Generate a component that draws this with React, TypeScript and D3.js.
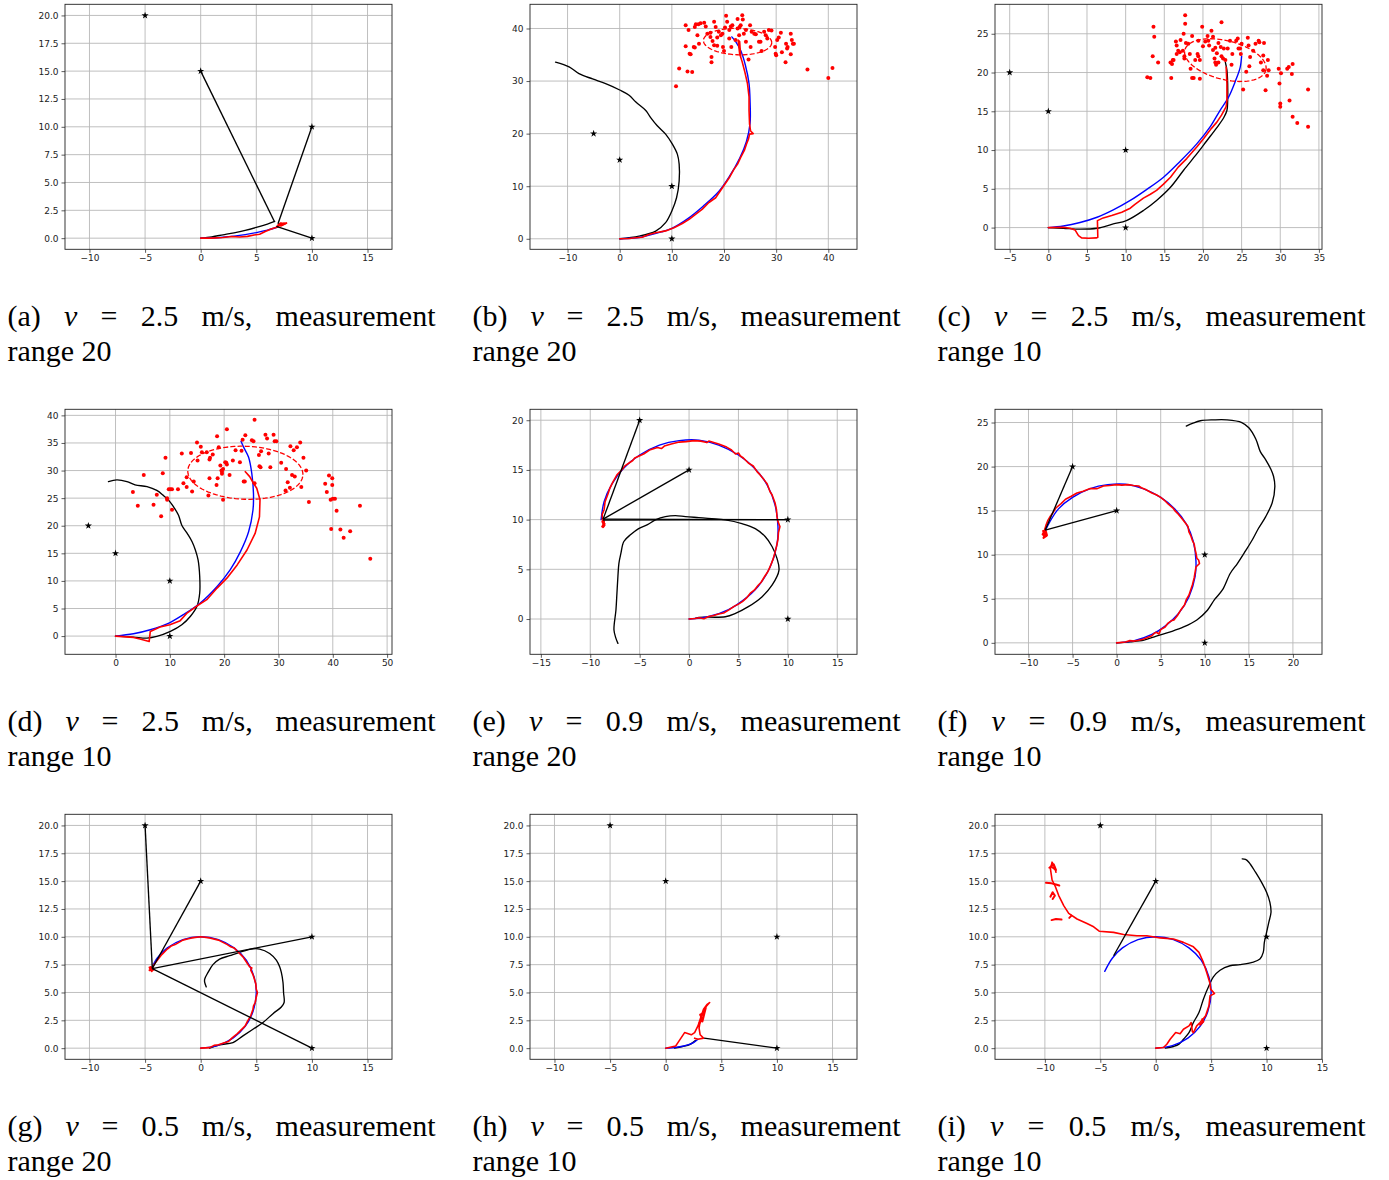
import React, { useEffect, useRef } from "react";
import * as d3 from "d3";

type Pt = [number, number];
type Seg = [number, number, number, number];

// ---- shared values -------------------------------------------------------
const landmarks: Pt[] = [[-5, 20], [0, 15], [10, 10], [10, 0]];
const letters = ["a", "b", "c", "d", "e", "f", "g", "h", "i"];
const speeds = ["2.5", "2.5", "2.5", "2.5", "0.9", "0.9", "0.5", "0.5", "0.5"];
const ranges = [20, 20, 10, 10, 20, 10, 20, 10, 10];

const xDomains: Pt[] = [
  [-12.2, 17.2], [-17.2, 45.5], [-6.9, 35.4],
  [-9.3, 50.9], [-16.1, 17.0], [-13.8, 23.3],
  [-12.2, 17.2], [-12.2, 17.2], [-14.5, 15.0],
];
const yDomains: Pt[] = [
  [-1.0, 21.0], [-2.0, 44.6], [-2.8, 28.8],
  [-3.3, 41.1], [-3.55, 21.1], [-1.3, 26.5],
  [-1.0, 21.0], [-1.0, 21.0], [-1.0, 21.0],
];
const xTicksSmall = [-10, -5, 0, 5, 10, 15];
const yTicksQuarter = [0, 2.5, 5, 7.5, 10, 12.5, 15, 17.5, 20];
const xTicks: number[][] = [
  xTicksSmall, [-10, 0, 10, 20, 30, 40], [-5, 0, 5, 10, 15, 20, 25, 30, 35],
  [0, 10, 20, 30, 40, 50], [-15, -10, -5, 0, 5, 10, 15], [-10, -5, 0, 5, 10, 15, 20],
  xTicksSmall, xTicksSmall, xTicksSmall,
];
const yTicks: number[][] = [
  yTicksQuarter, [0, 10, 20, 30, 40], [0, 5, 10, 15, 20, 25],
  [0, 5, 10, 15, 20, 25, 30, 35, 40], [0, 5, 10, 15, 20], [0, 5, 10, 15, 20, 25],
  yTicksQuarter, yTicksQuarter, yTicksQuarter,
];
const yFormats = [".1f", "d", "d", "d", "d", "d", ".1f", ".1f", ".1f"];

// ---- (a) -----------------------------------------------------------------
const aBlack: Pt[] = [[0, 0], [1, 0.12], [2, 0.3], [3, 0.48], [4, 0.7], [5, 0.97], [6, 1.27], [6.65, 1.5]];
const aBlue: Pt[] = [[0, 0], [1, 0.02], [2, 0.08], [3, 0.18], [4, 0.32], [5, 0.5], [6, 0.72], [6.95, 1.0]];
const aRed: Pt[] = [[0, 0], [1, 0.0], [2, 0.06], [2.8, 0.15], [3.5, 0.1], [4.2, 0.16], [4.8, 0.28], [5.3, 0.35], [5.8, 0.6], [6.4, 0.85], [6.9, 1.0], [7.3, 1.3], [7.0, 1.15], [7.5, 1.35], [7.2, 1.1], [7.6, 1.3], [7.0, 1.2], [7.4, 1.25]];
const aRedBits: Pt[][] = [[[6.9, 1.1], [7.2, 1.35], [7.5, 1.3], [7.7, 1.35], [7.3, 1.2], [7.0, 1.25]]];
const aLinks: Seg[] = [[0, 15, 6.65, 1.45], [10, 10, 6.95, 1.3], [6.8, 1.05, 10, 0]];

// ---- (b) -----------------------------------------------------------------
const bBlack: Pt[] = [[0, 0], [3.7, 0.5], [6.9, 1.46], [8.8, 3.06], [10.0, 5.3], [10.9, 7.8], [11.4, 11.0], [11.4, 14.2], [11.05, 16.1], [10.1, 18.0], [8.8, 19.9], [7.2, 21.5], [5.9, 23.1], [5.0, 24.4], [3.1, 26.0], [1.8, 27.3], [0, 28.3], [-2.7, 29.5], [-5.2, 30.4], [-7.8, 31.4], [-9.7, 32.7], [-12.3, 33.6]];
const bBlue: Pt[] = [[0, 0], [4, 0.3], [8, 1.3], [10, 2.0], [13, 3.8], [16, 6.2], [19, 9.0], [21, 11.8], [23, 15.3], [24.3, 18.5], [25, 22], [25, 26], [24.8, 29.5], [24.1, 33], [23.2, 35.8], [22.3, 37.4], [21.5, 38.4]];
const bRed: Pt[] = [[0, 0], [1.8, 0.06], [3.1, 0.19], [4.3, 0.3], [5.6, 0.8], [6.9, 1.15], [8.8, 1.5], [10.4, 2.1], [12.0, 2.9], [13.3, 3.7], [14.6, 4.7], [15.8, 5.6], [17.1, 6.9], [18.4, 7.8], [19.7, 9.7], [21.0, 11.6], [21.9, 13.2], [22.6, 14.2], [23.2, 15.5], [23.9, 16.8], [24.3, 18.0], [24.7, 19.0], [24.9, 19.9], [25.6, 20.0], [25.1, 20.5], [24.9, 21.8], [24.8, 24.4], [24.8, 27.0], [24.5, 29.5], [24.0, 31.7], [23.5, 33.6], [23.0, 35.2], [22.7, 37.8], [23.0, 37.5], [23.2, 34.6]];
const bScatter: Pt[] = [[12.65, 40.6], [13.2, 39.7], [14.4, 40.3], [14.6, 40.8], [15.1, 40.8], [14.9, 38.7], [15.2, 37.1], [12.65, 36.6], [13.4, 35.2], [13.6, 35.1], [14.2, 36.5], [14.4, 36.4], [11.4, 32.4], [13.0, 31.8], [13.9, 31.7], [10.8, 29.0], [16.2, 41.1], [16.5, 40.4], [17.4, 39.2], [17.8, 37.6], [18.1, 41.3], [18.4, 40.3], [18.1, 36.8], [18.7, 38.3], [17.6, 34.6], [17.6, 33.6], [18.7, 36.7], [19.4, 38.7], [19.7, 39.0], [19.8, 36.5], [20.0, 35.7], [20.2, 40.2], [20.4, 42.4], [20.6, 41.3], [21.0, 39.7], [21.3, 40.4], [21.6, 40.6], [21.4, 36.5], [22.2, 37.8], [22.6, 40.0], [22.6, 41.8], [23.0, 40.3], [23.2, 40.6], [23.5, 42.5], [23.6, 41.7], [23.8, 39.0], [24.2, 37.5], [24.7, 34.1], [25.0, 40.6], [25.1, 36.5], [25.3, 39.4], [25.8, 39.0], [26.1, 38.9], [26.7, 37.5], [27.0, 37.5], [27.2, 35.7], [27.7, 39.4], [28.0, 38.7], [28.3, 38.1], [28.6, 39.7], [29.1, 39.6], [29.8, 36.5], [29.9, 35.2], [30.0, 34.9], [30.2, 37.8], [30.5, 38.3], [30.9, 39.2], [31.1, 35.5], [31.8, 33.6], [31.9, 37.1], [32.1, 36.2], [32.2, 36.5], [32.8, 39.0], [32.8, 35.1], [33.0, 37.8], [33.2, 37.1], [33.4, 37.1], [36.0, 32.2], [40.0, 30.6], [40.8, 32.5], [15.5, 41.0], [19.0, 39.4], [21.0, 38.1], [22.9, 38.7], [24.2, 39.7], [16.8, 39.0], [17.4, 38.4]];
// centre x, centre y, semi-axis x, semi-axis y, rotation (deg)
const bEllipse = [22.6, 37.5, 6.55, 2.5, -2];

// ---- (c) -----------------------------------------------------------------
const cBlack: Pt[] = [[0, 0], [1.94, -0.09], [4.1, -0.2], [6.3, -0.09], [8.4, 0.47], [10.1, 0.9], [12.3, 2.2], [14.0, 3.5], [15.8, 5.2], [17.5, 7.4], [19.2, 9.5], [20.5, 11.2], [21.8, 12.9], [22.7, 14.2], [23.1, 15.1], [23.2, 16.4], [23.2, 18.5], [23.1, 20.3], [22.9, 21.3]];
const cBlue: Pt[] = [[0, 0], [1.94, 0.2], [4.1, 0.65], [6.3, 1.33], [8.4, 2.28], [10.6, 3.5], [12.7, 4.9], [14.9, 6.5], [17.0, 8.5], [19.2, 10.8], [20.9, 12.95], [22.2, 15.1], [23.3, 16.8], [24.2, 18.9], [24.8, 20.6], [25.0, 22.1]];
const cRed: Pt[] = [[0, 0], [1.94, 0.04], [2.8, -0.09], [3.45, -0.3], [3.9, -1.03], [4.3, -1.33], [5.2, -1.38], [6.2, -1.33], [6.4, -1.25], [6.35, 0.9], [7.1, 1.25], [8.2, 1.55], [9.5, 1.98], [10.6, 2.5], [11.2, 3.0], [12.3, 3.8], [13.2, 4.3], [14.0, 4.8], [14.9, 5.6], [15.8, 6.5], [16.8, 7.8], [17.9, 8.9], [19.2, 10.4], [20.1, 11.5], [21.1, 12.8], [21.8, 13.6], [22.4, 14.5], [23.0, 15.6], [23.1, 16.4], [23.1, 18.6], [23.0, 20.7]];
const cScatter: Pt[] = [[13.6, 25.9], [13.7, 24.6], [13.5, 22.1], [14.2, 21.3], [12.8, 19.4], [13.2, 19.3], [16.0, 21.1], [15.8, 21.3], [15.9, 19.3], [16.1, 21.6], [16.2, 21.6], [16.5, 24.0], [16.6, 23.5], [16.8, 22.8], [16.6, 22.4], [17.1, 24.2], [17.0, 22.6], [17.4, 22.8], [17.6, 22.1], [17.6, 21.8], [17.5, 25.0], [17.7, 27.4], [17.7, 26.3], [17.8, 23.8], [18.1, 23.7], [18.3, 22.4], [18.4, 20.5], [18.6, 24.7], [18.6, 19.3], [18.8, 19.3], [19.0, 21.6], [19.3, 22.4], [19.4, 24.1], [19.4, 22.1], [19.6, 21.6], [19.6, 19.2], [19.9, 25.9], [20.0, 23.4], [20.3, 24.0], [20.6, 24.7], [20.7, 24.1], [20.8, 23.5], [21.1, 25.4], [21.3, 24.6], [21.3, 22.9], [21.5, 21.8], [21.6, 21.3], [21.6, 23.2], [21.7, 21.0], [21.8, 22.5], [22.0, 23.8], [22.0, 21.3], [22.3, 23.3], [22.4, 26.5], [22.4, 22.1], [22.6, 21.8], [22.7, 23.1], [22.9, 21.6], [23.2, 23.1], [23.5, 24.1], [23.7, 21.0], [23.8, 22.4], [24.3, 24.1], [24.5, 24.4], [24.6, 23.1], [24.8, 23.1], [24.9, 22.4], [25.0, 23.7], [25.2, 17.8], [25.6, 20.1], [25.8, 24.5], [25.9, 23.5], [26.0, 20.8], [26.1, 22.0], [26.5, 22.8], [26.8, 23.7], [27.2, 24.1], [27.3, 23.9], [27.5, 21.3], [27.8, 22.2], [27.9, 23.8], [27.8, 20.3], [28.1, 17.7], [28.3, 19.6], [28.4, 21.6], [28.5, 20.3], [29.8, 20.5], [29.9, 18.6], [30.1, 19.9], [30.0, 16.0], [30.0, 15.6], [30.9, 20.5], [31.1, 20.7], [31.2, 16.4], [31.5, 19.8], [31.6, 21.1], [31.6, 14.3], [32.2, 13.5], [33.6, 17.8], [33.6, 13.0]];
const cEllipse = [22.9, 21.6, 5.4, 2.5, -14];

// ---- (d) -----------------------------------------------------------------
const dBlack: Pt[] = [[0, 0], [3.3, -0.18], [5.8, -0.36], [7.6, -0.06], [10.1, 0.85], [12.2, 2.05], [13.8, 3.6], [15.0, 5.4], [15.5, 7.8], [15.5, 10.8], [15.2, 13.8], [14.7, 15.6], [14.1, 17.1], [13.2, 18.6], [12.2, 20.1], [11.6, 21.9], [10.7, 23.4], [9.8, 24.6], [8.8, 25.5], [7.6, 26.4], [5.8, 27.1], [3.6, 27.4], [2.1, 28.0], [0.25, 28.3], [-1.3, 28.0]];
const dBlue: Pt[] = [[0, 0], [3.3, 0.42], [6.4, 1.15], [9.5, 2.2], [12.5, 3.9], [15.6, 6.0], [18.7, 9.0], [21.1, 12.0], [23.0, 15.3], [24.5, 18.9], [25.3, 22.8], [25.4, 25.8], [25.1, 29.4], [24.5, 32.4], [23.6, 34.2], [23.1, 35.3]];
const dRed: Pt[] = [[0, 0], [3.3, -0.24], [4.5, -0.54], [6.2, -0.97], [6.4, 0.85], [8.2, 1.63], [10.0, 2.05], [11.9, 2.8], [13.1, 4.1], [14.9, 5.4], [16.8, 6.6], [18.7, 8.7], [20.5, 10.5], [22.4, 12.9], [24.2, 15.6], [25.7, 18.6], [26.5, 21.6], [26.6, 24.7], [26.0, 26.8], [25.4, 27.7], [24.7, 28.9], [23.9, 29.8]];
const dScatter: Pt[] = [[3.2, 26.1], [4.1, 23.6], [5.2, 29.2], [7.0, 23.8], [7.6, 25.6], [8.4, 21.7], [8.7, 29.5], [9.2, 32.3], [9.5, 25.0], [9.5, 24.7], [9.8, 26.6], [10.1, 26.6], [10.4, 26.6], [10.4, 22.9], [11.5, 26.6], [12.2, 33.1], [12.5, 27.7], [13.1, 28.8], [13.1, 27.0], [13.9, 33.2], [14.1, 26.2], [14.4, 28.0], [15.0, 35.1], [15.1, 31.8], [15.7, 34.3], [15.9, 33.3], [16.8, 33.3], [17.1, 25.5], [17.3, 28.6], [17.3, 32.0], [17.4, 32.3], [17.9, 32.9], [18.6, 27.4], [18.7, 36.2], [18.8, 28.6], [19.0, 34.2], [19.3, 30.9], [19.5, 30.0], [19.6, 29.8], [19.6, 29.4], [19.8, 30.3], [19.8, 24.7], [20.2, 31.5], [20.4, 31.4], [20.5, 31.1], [20.5, 37.5], [21.0, 29.2], [21.6, 31.8], [22.1, 33.7], [22.9, 31.5], [23.2, 33.6], [23.4, 35.6], [23.6, 28.0], [23.8, 28.0], [23.9, 36.4], [25.1, 35.5], [25.4, 35.3], [25.6, 39.2], [25.6, 27.7], [26.4, 32.8], [26.5, 30.8], [26.7, 30.6], [26.8, 33.5], [27.6, 36.5], [27.9, 35.8], [28.2, 33.1], [28.5, 30.6], [29.1, 36.5], [29.3, 35.3], [29.6, 35.3], [30.5, 31.4], [31.3, 26.4], [31.4, 30.3], [31.7, 27.9], [32.1, 26.9], [32.2, 34.4], [32.5, 29.2], [32.8, 33.7], [33.0, 28.9], [33.4, 34.2], [34.0, 35.1], [34.2, 27.0], [34.6, 32.3], [35.1, 30.0], [35.6, 24.3], [38.6, 27.6], [38.9, 26.1], [39.3, 29.1], [39.6, 24.7], [39.9, 27.4], [39.9, 28.6], [40.0, 24.9], [40.4, 24.9], [40.7, 22.7], [39.7, 19.4], [41.4, 19.3], [42.0, 17.8], [43.2, 19.0], [45.0, 23.6], [46.9, 14.0]];
const dEllipse = [23.9, 29.6, 10.6, 4.8, -2];

// ---- (e) -----------------------------------------------------------------
const eBlack: Pt[] = [[0.64, 0.07], [0.98, 0.17], [3.67, 0.23], [4.7, 0.57], [6.0, 1.24], [7.4, 2.25], [8.4, 3.4], [9.1, 4.9], [8.9, 6.1], [8.4, 7.3], [7.7, 8.3], [6.7, 9.1], [5.35, 9.6], [3.67, 9.97], [2.3, 10.1], [0.98, 10.2], [-0.37, 10.3], [-1.38, 10.4], [-2.4, 10.3], [-3.4, 9.97], [-4.2, 9.5], [-5.1, 9.1], [-5.9, 8.5], [-6.6, 7.8], [-6.9, 6.6], [-7.1, 5.6], [-7.2, 4.3], [-7.3, 2.6], [-7.4, 0.9], [-7.6, -1.1], [-7.4, -1.95], [-7.2, -2.45]];
const eBlue: Pt[] = [[0, 0], [2, 0.25], [4, 0.95], [5.5, 1.9], [7, 3.3], [8.2, 5.2], [8.9, 7.5], [9.0, 9.3], [8.7, 11.5], [7.9, 13.5], [6.6, 15.2], [5, 16.5], [3, 17.5], [1, 18], [-1, 17.95], [-3, 17.5], [-5, 16.5], [-6.6, 15.2], [-7.8, 13.6], [-8.6, 11.8], [-8.9, 10]];
const eRed: Pt[] = [[0, 0], [0.6, 0.05], [1, 0.12], [1.5, 0.03], [2, 0.25], [2.5, 0.35], [3, 0.5], [3.5, 0.6], [4, 0.9], [4.6, 1.3], [5, 1.5], [5.4, 1.75], [5.8, 2.1], [6.2, 2.6], [6.6, 2.9], [7, 3.4], [7.3, 3.7], [7.6, 4.2], [8.0, 4.8], [8.3, 5.5], [8.5, 6.0], [8.7, 6.7], [8.85, 7.3], [9.0, 8.0], [9.05, 8.7], [9.2, 9.3], [9.0, 9.8], [8.9, 10.3], [8.85, 11.0], [8.7, 11.7], [8.4, 12.5], [8.2, 12.8], [7.9, 13.6], [7.6, 14.0], [7.2, 14.5], [6.9, 14.8], [6.5, 15.4], [6.0, 15.7], [5.5, 16.2], [5.2, 16.4], [5.0, 16.7], [4.7, 16.6], [4.3, 17.0], [3.8, 17.3], [3.0, 17.6], [2, 17.9], [1.8, 17.75], [1.2, 17.9], [0.5, 17.95], [-0.3, 17.85], [-1, 17.8], [-1.8, 17.6], [-2.5, 17.4], [-2.8, 17.15], [-3.2, 17.25], [-4, 17], [-4.6, 16.6], [-5.5, 16.2], [-5.7, 15.95], [-6.5, 15.4], [-6.9, 14.9], [-7.3, 14.5], [-7.7, 13.8], [-8.0, 13.2], [-8.2, 12.6], [-8.5, 11.8], [-8.6, 11.0], [-8.8, 10.5], [-8.7, 9.6], [-8.6, 9.4], [-8.8, 9.8], [-8.6, 10.1], [-8.7, 9.5]];
const eRedBits: Pt[][] = [[[-8.8, 9.3], [-8.55, 9.6], [-8.75, 10.0], [-8.55, 9.45], [-8.7, 9.25], [-8.6, 9.8]]];
const eLinks: Seg[] = [[-8.7, 10.05, -5, 20], [-8.7, 10.05, 0, 15], [-8.7, 10.05, 10, 10], [-8.7, 9.95, 10, 10]];

// ---- (f) -----------------------------------------------------------------
const fBlack: Pt[] = [[0, 0], [1.55, 0.11], [3.1, 0.3], [4.5, 0.76], [6.1, 1.25], [7.6, 1.8], [9.1, 2.6], [10.3, 3.7], [11.1, 4.9], [12.0, 6.0], [12.9, 7.9], [13.7, 9.0], [14.6, 10.4], [15.4, 11.7], [16.1, 13.0], [16.9, 14.3], [17.65, 15.9], [17.95, 17.75], [17.8, 18.9], [17.5, 19.7], [16.9, 20.8], [16.3, 21.7], [15.8, 23.1], [15.0, 24.4], [14.2, 25.0], [12.5, 25.3], [11.0, 25.3], [9.5, 25.2], [8.6, 24.9], [7.9, 24.6]];
const fBlue: Pt[] = [[0, 0], [2, 0.25], [4, 0.95], [5.5, 1.9], [7, 3.3], [8.2, 5.2], [8.9, 7.5], [9.0, 9.3], [8.7, 11.5], [7.9, 13.5], [6.6, 15.2], [5, 16.5], [3, 17.5], [1, 18], [-1, 17.95], [-3, 17.5], [-5, 16.5], [-6.6, 15.2], [-7.6, 13.7], [-8.2, 12.5]];
const fRed: Pt[] = [[0, 0], [1, 0.1], [1.5, 0.25], [2, 0.2], [2.5, 0.3], [3, 0.4], [3.5, 0.6], [4, 0.8], [4.3, 1.1], [4.5, 1.2], [4.8, 1.0], [5, 1.5], [5.5, 1.8], [5.8, 2.2], [6.2, 2.5], [6.5, 2.6], [6.9, 3.1], [7.2, 3.6], [7.4, 3.9], [7.7, 4.3], [7.9, 4.9], [8.2, 5.4], [8.4, 6.0], [8.6, 6.6], [8.8, 7.4], [8.9, 8.0], [9.0, 8.6], [9.4, 9.0], [9.3, 9.4], [9.1, 9.6], [9.0, 10.2], [8.9, 10.6], [8.8, 11.2], [8.6, 11.6], [8.4, 12.2], [8.2, 12.6], [8.1, 13.2], [7.8, 13.6], [7.4, 14.1], [7.0, 14.6], [6.6, 15.0], [6.4, 15.3], [5.9, 15.7], [5.5, 16.1], [5.0, 16.5], [4.5, 16.8], [4.0, 17.0], [3.3, 17.4], [2.8, 17.6], [2.5, 17.8], [1.9, 17.85], [1.3, 17.95], [0.6, 17.9], [0, 17.95], [-0.8, 17.85], [-1.5, 17.8], [-2.2, 17.5], [-3, 17.5], [-3.8, 17.2], [-4.5, 17], [-5.2, 16.6], [-5.8, 16.3], [-6.3, 15.8], [-6.9, 15.3], [-7.2, 14.8], [-7.5, 14.4], [-7.8, 13.9], [-8.0, 13.4], [-8.2, 12.7], [-8.3, 12.2], [-8.0, 12.1], [-8.2, 12.5]];
const fRedBits: Pt[][] = [[[-8.4, 12.3], [-8.1, 12.9], [-7.9, 12.2], [-8.3, 11.9], [-8.0, 12.6], [-8.35, 12.7]]];
const fLinks: Seg[] = [[-8.1, 12.8, -5, 20], [-8.1, 12.8, 0, 15]];

// ---- (g) -----------------------------------------------------------------
const gBlack: Pt[] = [[0.8, 0], [1.7, 0.3], [2.9, 0.5], [3.8, 1.1], [4.7, 1.7], [5.6, 2.3], [6.5, 3.1], [7.25, 3.7], [7.5, 4.1], [7.45, 5.0], [7.4, 5.9], [7.25, 6.8], [7.1, 7.3], [6.8, 7.9], [6.2, 8.5], [5.3, 8.9], [4.55, 8.9], [3.5, 8.6], [2.6, 8.3], [1.7, 8.0], [1.1, 7.5], [0.66, 6.8], [0.36, 6.2], [0.36, 5.9], [0.5, 5.5]];
const gBlue: Pt[] = [[0, 0], [1.5, 0.23], [2.9, 0.9], [4, 1.95], [4.7, 3.3], [5, 5], [4.8, 6.4], [4.1, 7.9], [3, 9], [1.6, 9.75], [0, 10], [-1.6, 9.75], [-3, 9], [-3.9, 8.1], [-4.4, 7.2]];
const gRed: Pt[] = [[0, 0], [0.8, 0.05], [1.2, 0.25], [1.6, 0.3], [2.2, 0.5], [2.5, 0.6], [2.8, 0.9], [3.3, 1.3], [3.8, 1.8], [4.0, 2.0], [4.2, 2.4], [4.5, 2.9], [4.7, 3.5], [4.75, 3.8], [4.9, 4.1], [5.0, 4.6], [5.1, 5.0], [5.0, 5.3], [4.95, 5.8], [4.8, 6.3], [4.7, 6.6], [4.5, 7.0], [4.6, 7.2], [4.4, 7.3], [4.2, 7.6], [3.8, 8.2], [3.3, 8.7], [3.0, 9.0], [2.7, 9.1], [2.4, 9.3], [1.6, 9.7], [0.8, 9.9], [0, 10.0], [-0.8, 9.9], [-1.2, 9.8], [-1.6, 9.7], [-2.3, 9.3], [-2.6, 9.2], [-3.0, 8.9], [-3.5, 8.4], [-3.9, 7.9], [-4.2, 7.5], [-4.4, 7.2], [-4.5, 7.0], [-4.3, 7.1], [-4.5, 7.3]];
const gRedBits: Pt[][] = [[[-4.6, 7.0], [-4.3, 7.3], [-4.4, 6.9], [-4.6, 7.25], [-4.25, 7.05]]];
const gLinks: Seg[] = [[-4.35, 7.15, -5, 20], [-4.35, 7.15, 0, 15], [-4.35, 7.15, 10, 10], [-4.35, 7.15, 10, 0]];

// ---- (h) -----------------------------------------------------------------
const hBlack: Pt[] = [[0.8, 0], [1.5, 0.15], [2.2, 0.35], [2.7, 0.7]];
const hBlue: Pt[] = [[0, 0], [1, 0.08], [2, 0.3], [2.5, 0.5], [2.9, 0.8]];
const hRed: Pt[] = [[0, 0], [0.9, 0.2], [1.1, 0.5], [1.7, 1.4], [2.3, 1.2], [2.6, 1.4], [2.9, 2.0], [3.2, 2.9], [3.4, 3.5], [3.7, 3.9], [3.95, 4.1], [3.6, 3.7], [3.3, 3.0], [3.1, 2.4], [3.0, 1.8], [3.1, 1.2], [3.4, 0.9], [2.9, 0.8], [2.6, 0.9]];
const hRedBits: Pt[][] = [[[3.0, 2.2], [3.3, 2.6], [3.1, 3.0], [3.5, 3.2], [3.3, 2.4], [3.6, 3.6], [3.4, 3.1]]];
const hLinks: Seg[] = [[3.45, 0.9, 10, 0]];

// ---- (i) -----------------------------------------------------------------
const iBlack: Pt[] = [[0.87, 0], [1.6, 0.15], [2.1, 0.36], [2.5, 0.8], [3.0, 1.4], [3.4, 2.3], [3.9, 3.2], [4.3, 4.4], [4.8, 5.6], [5.2, 6.4], [5.8, 7.0], [6.7, 7.4], [7.6, 7.5], [8.7, 7.7], [9.4, 8.0], [9.7, 8.6], [9.8, 9.5], [10.0, 10.4], [10.2, 11.3], [10.4, 12.2], [10.3, 13.1], [10.0, 14.0], [9.6, 14.8], [9.0, 15.8], [8.4, 16.7], [8.1, 16.95], [7.8, 17.0]];
const iBlue: Pt[] = [[0, 0], [1.5, 0.23], [2.9, 0.9], [4, 1.95], [4.7, 3.3], [5, 5], [4.8, 6.4], [4.1, 7.9], [3, 9], [1.6, 9.75], [0, 10], [-1.6, 9.75], [-3, 9], [-3.9, 8.1], [-4.6, 6.9]];
const iRed: Pt[] = [[0, 0], [0.7, 0.06], [1.0, 0.35], [1.3, 0.8], [1.8, 1.4], [2.2, 1.3], [2.5, 1.7], [3.0, 2.0], [3.2, 2.3], [3.3, 1.5], [3.4, 1.4], [3.7, 2.0], [4.0, 2.3], [4.5, 2.9], [4.8, 3.8], [4.9, 4.7], [5.3, 4.9], [4.95, 5.3], [4.9, 5.8], [4.6, 6.8], [4.3, 7.7], [3.9, 8.6], [3.4, 9.1], [2.5, 9.5], [1.6, 9.8], [0.4, 9.9], [-0.8, 10.1], [-1.7, 10.1], [-2.9, 10.2], [-3.8, 10.4], [-5.1, 10.5], [-5.6, 10.9], [-6.2, 11.2], [-7.1, 11.6], [-7.85, 12.1], [-8.3, 12.8], [-8.75, 13.7], [-9.05, 14.5], [-9.35, 15.1], [-9.5, 16.1], [-9.35, 16.7], [-9.1, 16.2], [-9.0, 15.8]];
const iRedBits: Pt[][] = [
  [[-9.9, 14.85], [-9.4, 14.8], [-9.0, 14.7], [-8.7, 14.6]],
  [[-9.5, 13.6], [-9.3, 14.0], [-9.1, 13.7], [-9.3, 13.4]],
  [[-9.4, 11.5], [-9.0, 11.6], [-8.5, 11.55]],
  [[-9.6, 16.2], [-9.2, 16.5], [-9.0, 16.0], [-9.4, 16.3]],
  [[-7.8, 11.7], [-7.6, 11.9]],
  [[4.0, 2.1], [4.3, 2.4], [4.2, 2.6]],
];
const iLinks: Seg[] = [[-3.8, 8.3, 0, 15]];

// ---- figure table --------------------------------------------------------
type Panel = {
  black: Pt[]; blue: Pt[]; red: Pt[]; redBits?: Pt[][];
  links?: Seg[]; scatter?: Pt[]; ellipse?: number[];
};
const panels: Panel[] = [
  { black: aBlack, blue: aBlue, red: aRed, redBits: aRedBits, links: aLinks },
  { black: bBlack, blue: bBlue, red: bRed, scatter: bScatter, ellipse: bEllipse },
  { black: cBlack, blue: cBlue, red: cRed, scatter: cScatter, ellipse: cEllipse },
  { black: dBlack, blue: dBlue, red: dRed, scatter: dScatter, ellipse: dEllipse },
  { black: eBlack, blue: eBlue, red: eRed, redBits: eRedBits, links: eLinks },
  { black: fBlack, blue: fBlue, red: fRed, redBits: fRedBits, links: fLinks },
  { black: gBlack, blue: gBlue, red: gRed, redBits: gRedBits, links: gLinks },
  { black: hBlack, blue: hBlue, red: hRed, redBits: hRedBits, links: hLinks },
  { black: iBlack, blue: iBlue, red: iRed, redBits: iRedBits, links: iLinks },
];

// ---- layout --------------------------------------------------------------
const W = 1389;
const H = 1180;
const PLOT_W = 327;
const PLOT_H = 245;
const colLeft = [65, 530, 995];
const rowTop = [4.3, 409.3, 814.3];
const capLeft = [7.5, 472.5, 937.5];
const CAP_W = 428;
const capBase = [326, 731, 1136];
const CAP_LINE = 35;
const TICK_FONT = "'DejaVu Sans', sans-serif";
const CAP_FONT = "'Liberation Serif', 'Times New Roman', serif";

function drawPanel(svg: d3.Selection<SVGSVGElement, unknown, null, undefined>, p: Panel, i: number) {
  const col = i % 3;
  const row = Math.floor(i / 3);
  const left = colLeft[col];
  const top = rowTop[row];
  const x = d3.scaleLinear().domain(xDomains[i]).range([left, left + PLOT_W]);
  const y = d3.scaleLinear().domain(yDomains[i]).range([top + PLOT_H, top]);
  const g = svg.append("g");

  const clipId = `plot-clip-${i}`;
  g.append("clipPath").attr("id", clipId)
    .append("rect").attr("x", left).attr("y", top).attr("width", PLOT_W).attr("height", PLOT_H);

  // grid
  g.append("g").selectAll("line").data(xTicks[i]).join("line")
    .attr("x1", (d) => x(d)).attr("x2", (d) => x(d))
    .attr("y1", top).attr("y2", top + PLOT_H)
    .attr("stroke", "#b8b8b8").attr("stroke-width", 0.9);
  g.append("g").selectAll("line").data(yTicks[i]).join("line")
    .attr("y1", (d) => y(d)).attr("y2", (d) => y(d))
    .attr("x1", left).attr("x2", left + PLOT_W)
    .attr("stroke", "#b8b8b8").attr("stroke-width", 0.9);

  // axes
  const xAxis = d3.axisBottom(x).tickValues(xTicks[i]).tickFormat(d3.format("d"))
    .tickSizeInner(3.5).tickSizeOuter(0).tickPadding(2);
  const yAxis = d3.axisLeft(y).tickValues(yTicks[i]).tickFormat(d3.format(yFormats[i]))
    .tickSizeInner(3.5).tickSizeOuter(0).tickPadding(3);
  const gx = g.append("g").attr("transform", `translate(0,${top + PLOT_H})`).call(xAxis);
  const gy = g.append("g").attr("transform", `translate(${left},0)`).call(yAxis);
  [gx, gy].forEach((ax) => {
    ax.select(".domain").remove();
    ax.attr("font-family", TICK_FONT).attr("font-size", 9);
    ax.selectAll("line").attr("stroke", "#333").attr("stroke-width", 0.8);
    ax.selectAll("text").attr("fill", "#222");
  });

  const plot = g.append("g").attr("clip-path", `url(#${clipId})`);
  const line = d3.line<Pt>().x((d) => x(d[0])).y((d) => y(d[1]));
  const smooth = d3.line<Pt>().x((d) => x(d[0])).y((d) => y(d[1])).curve(d3.curveCatmullRom.alpha(0.5));

  const stroke = (sel: d3.Selection<SVGPathElement, unknown, null, undefined>, color: string, w: number) =>
    sel.attr("fill", "none").attr("stroke", color).attr("stroke-width", w)
      .attr("stroke-linejoin", "round").attr("stroke-linecap", "round");

  stroke(plot.append("path").attr("d", smooth(p.black)), "#000", 1.35);
  stroke(plot.append("path").attr("d", smooth(p.blue)), "#0000ff", 1.4);
  stroke(plot.append("path").attr("d", line(p.red)), "#ff0000", 1.6);
  (p.redBits || []).forEach((bit) => stroke(plot.append("path").attr("d", line(bit)), "#ff0000", 2));

  (p.links || []).forEach((s) => {
    plot.append("line")
      .attr("x1", x(s[0])).attr("y1", y(s[1])).attr("x2", x(s[2])).attr("y2", y(s[3]))
      .attr("stroke", "#000").attr("stroke-width", 1.35);
  });

  if (p.scatter) {
    plot.append("g").selectAll("circle").data(p.scatter).join("circle")
      .attr("cx", (d) => x(d[0])).attr("cy", (d) => y(d[1])).attr("r", 2).attr("fill", "#ff0000");
  }

  if (p.ellipse) {
    const [cx, cy, rx, ry, deg] = p.ellipse;
    const a = (deg * Math.PI) / 180;
    const ring: Pt[] = d3.range(0, 361, 3).map((t) => {
      const r = (t * Math.PI) / 180;
      const ex = rx * Math.cos(r);
      const ey = ry * Math.sin(r);
      return [cx + ex * Math.cos(a) - ey * Math.sin(a), cy + ex * Math.sin(a) + ey * Math.cos(a)];
    });
    plot.append("path").attr("d", line(ring)).attr("fill", "none")
      .attr("stroke", "#ff0000").attr("stroke-width", 1.3).attr("stroke-dasharray", "5,2.2");
  }

  const star = d3.symbol().type(d3.symbolStar).size(16);
  plot.append("g").selectAll("path").data(landmarks).join("path")
    .attr("d", star as any)
    .attr("transform", (d) => `translate(${x(d[0])},${y(d[1])})`)
    .attr("fill", "#000");

  // frame
  g.append("rect").attr("x", left).attr("y", top).attr("width", PLOT_W).attr("height", PLOT_H)
    .attr("fill", "none").attr("stroke", "#222").attr("stroke-width", 0.9);
}

function drawCaptions(svg: d3.Selection<SVGSVGElement, unknown, null, undefined>) {
  panels.forEach((_, i) => {
    const col = i % 3;
    const row = Math.floor(i / 3);
    const x0 = capLeft[col];
    const base = capBase[row];
    const words = [`(${letters[i]})`, "v", "=", speeds[i], "m/s,", "measurement"];
    const g = svg.append("g").attr("font-family", CAP_FONT).attr("font-size", 30).attr("fill", "#000");
    const nodes = words.map((w, k) =>
      g.append("text").attr("y", base).attr("font-style", k === 1 ? "italic" : null).text(w)
    );
    const widths = nodes.map((n) => (n.node() as SVGTextElement).getComputedTextLength());
    const gap = (CAP_W - d3.sum(widths)) / (words.length - 1);
    let cx = x0;
    nodes.forEach((n, k) => {
      n.attr("x", cx);
      cx += widths[k] + gap;
    });
    g.append("text").attr("x", x0).attr("y", base + CAP_LINE).text(`range ${ranges[i]}`);
  });
}

export default function App() {
  const ref = useRef<SVGSVGElement>(null);
  useEffect(() => {
    if (!ref.current) return;
    const svg = d3.select(ref.current);
    svg.selectAll("*").remove();
    panels.forEach((p, i) => drawPanel(svg, p, i));
    drawCaptions(svg);
  }, []);
  return (
    <svg
      ref={ref}
      width={W}
      height={H}
      style={{ position: "absolute", left: 0, top: 0, background: "#fff", display: "block" }}
    />
  );
}
